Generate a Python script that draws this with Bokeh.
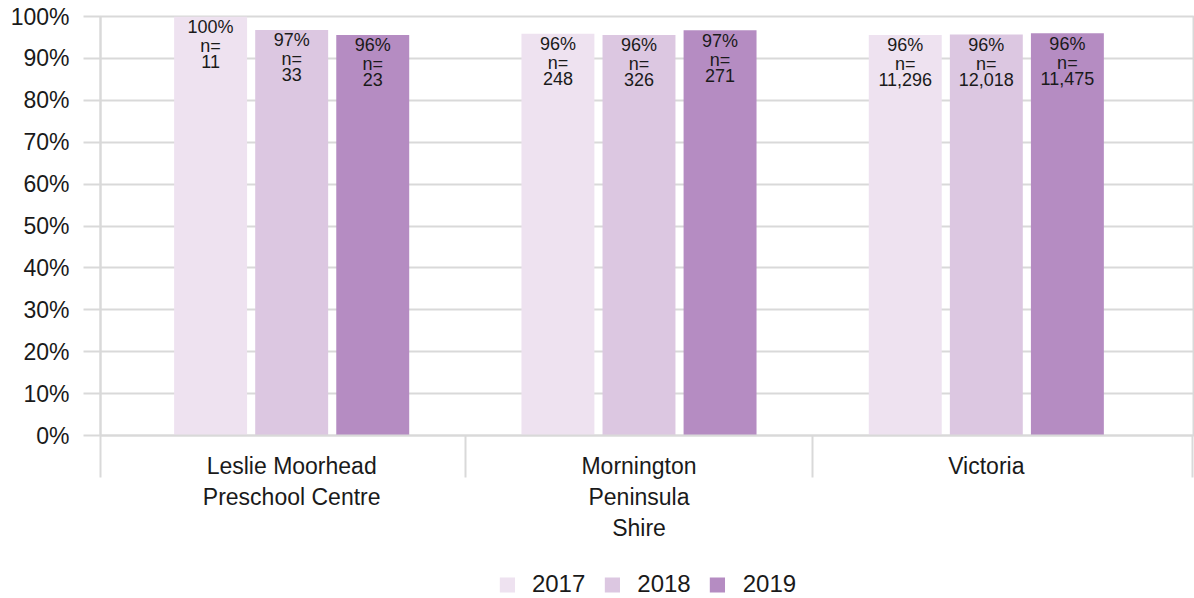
from bokeh.plotting import figure
from bokeh.layouts import column
from bokeh.models import (Range1d, FixedTicker, PrintfTickFormatter, Legend, LegendItem,
                          ColumnDataSource)
from bokeh.embed import file_html
from bokeh.resources import INLINE
from bokeh.core.properties import value

# ---- data ----
categories = ["Leslie Moorhead\nPreschool Centre", "Mornington\nPeninsula\nShire", "Victoria"]
years = ["2017", "2018", "2019"]
pct_2017 = [100.0, 95.9, 95.6]
pct_2018 = [96.8, 95.6, 95.7]
pct_2019 = [95.6, 96.7, 96.0]
n_2017 = [11, 248, 11296]
n_2018 = [33, 326, 12018]
n_2019 = [23, 271, 11475]
colors = ["#EEE2F0", "#DCC7E1", "#B58CC2"]
y_ticks = [0, 10, 20, 30, 40, 50, 60, 70, 80, 90, 100]

FONT = "Liberation Sans"
GRID = "#D9D9D9"
TXT = "#1A1A1A"

p = figure(width=1194, height=545, output_backend="svg", toolbar_location=None,
           x_range=Range1d(-0.5504, 2.5965), y_range=Range1d(0, 100),
           min_border_left=100, min_border_right=1, min_border_top=16, min_border_bottom=110)

p.outline_line_color = GRID
p.outline_line_width = 2
p.xgrid.visible = False
p.ygrid.grid_line_color = GRID
p.ygrid.grid_line_width = 2
p.ygrid.ticker = FixedTicker(ticks=y_ticks)

# y axis
ya = p.yaxis[0]
ya.ticker = FixedTicker(ticks=y_ticks, minor_ticks=[])
ya.formatter = PrintfTickFormatter(format="%d%%")
ya.axis_line_color = GRID
ya.axis_line_width = 2
ya.major_tick_line_color = GRID
ya.major_tick_line_width = 2
ya.major_tick_out = 17
ya.major_tick_in = 0
ya.minor_tick_line_color = None
ya.major_label_standoff = 14
ya.major_label_text_font = FONT
ya.major_label_text_font_size = "23px"
ya.major_label_text_color = TXT

# x axis
nc = len(categories)
xa = p.xaxis[0]
xa.ticker = FixedTicker(ticks=list(range(nc)),
                        minor_ticks=[-0.549, 0.5, 1.5, 2.595])
xa.major_label_overrides = {i: c for i, c in enumerate(categories)}
xa.axis_line_color = GRID
xa.axis_line_width = 2
xa.major_tick_line_color = None
xa.major_tick_out = 0
xa.major_tick_in = 0
xa.minor_tick_line_color = GRID
xa.minor_tick_line_width = 2
xa.minor_tick_out = 42
xa.minor_tick_in = 0
xa.major_label_standoff = -25
xa.major_label_text_font = FONT
xa.major_label_text_font_size = "23px"
xa.major_label_text_color = TXT

# legend figure (swatches only; its bars lie outside its visible range)
pl = figure(width=1194, height=53, output_backend="svg", toolbar_location=None,
            x_range=Range1d(0, 1), y_range=Range1d(1000, 1001),
            x_axis_location=None, y_axis_location=None,
            min_border_left=0, min_border_right=0, min_border_top=0, min_border_bottom=0)
pl.xgrid.visible = False
pl.ygrid.visible = False
pl.outline_line_color = None

offsets = [-0.2334, 0.0, 0.2334]
pcts = [pct_2017, pct_2018, pct_2019]
ns = [n_2017, n_2018, n_2019]
items = []
for k, yr in enumerate(years):
    xs = [i + offsets[k] for i in range(nc)]
    src = ColumnDataSource(dict(
        x=xs, top=pcts[k],
        l1=[f"{v:.0f}%" for v in pcts[k]],
        l2=["n=" for _ in pcts[k]],
        l3=[f"{n:,}" for n in ns[k]]))
    p.vbar(x="x", top="top", bottom=0, width=0.21, source=src,
           fill_color=colors[k], line_color=None)
    for j, col in enumerate(["l1", "l2", "l3"]):
        p.text(x="x", y="top", text=col, source=src, text_align="center",
               text_baseline="top", y_offset=0.5 + 19 * j, text_font=value(FONT),
               text_font_size="18px", text_color=TXT)
    rl = pl.vbar(x="x", top="top", bottom=0, width=0.21, source=src,
                 fill_color=colors[k], line_color=None)
    items.append(LegendItem(label=yr, renderers=[rl]))

legend = Legend(items=items, orientation="horizontal", location="bottom_center",
                glyph_width=19, glyph_height=19, label_standoff=16, spacing=17,
                label_text_font=FONT, label_text_font_size="24px",
                label_text_color=TXT, border_line_color=None,
                background_fill_alpha=0, margin=0, padding=0)
pl.add_layout(legend)

layout = column(p, pl, spacing=0)
open("out.html", "w").write(file_html(layout, INLINE))
